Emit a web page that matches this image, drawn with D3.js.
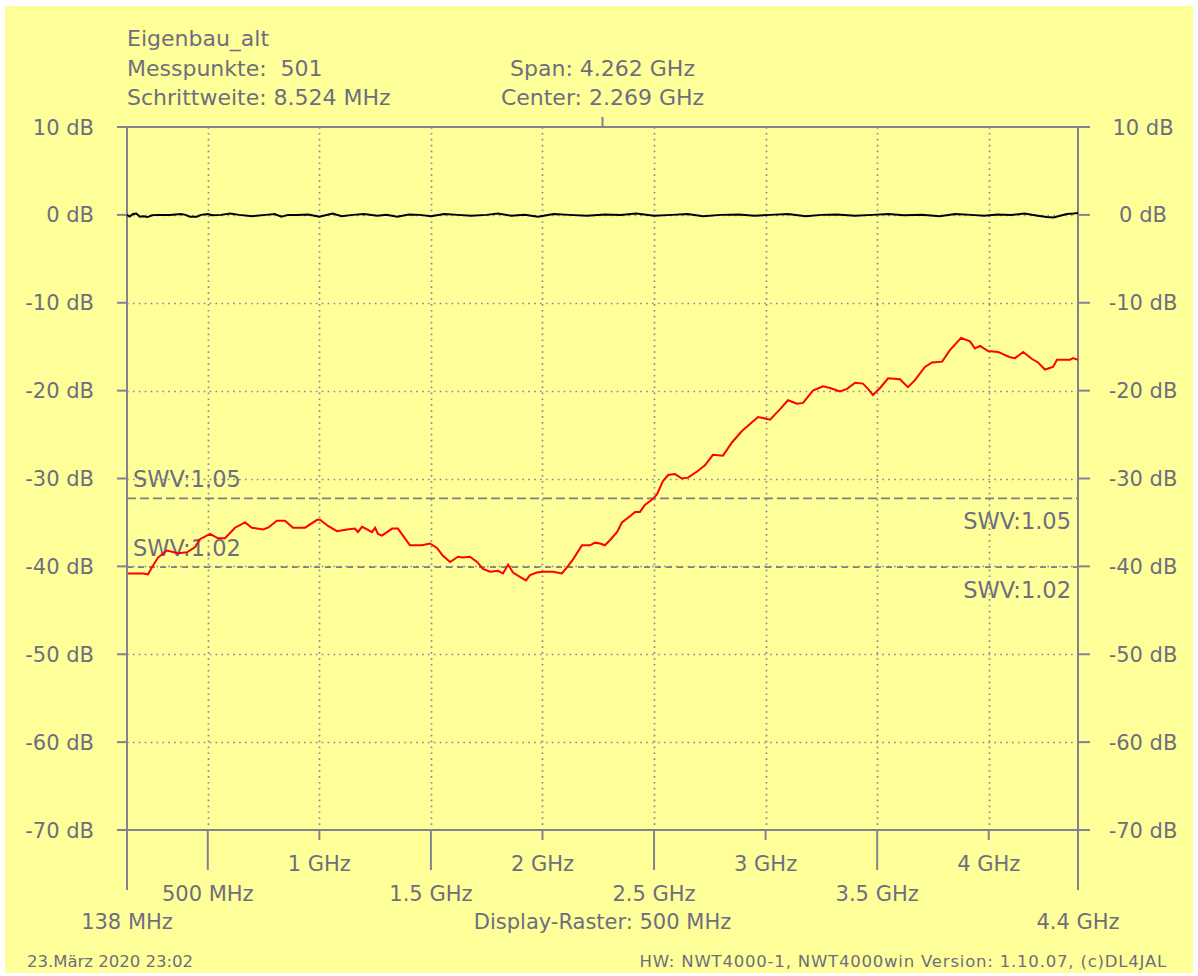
<!DOCTYPE html>
<html>
<head>
<meta charset="utf-8">
<script src="https://cdn.jsdelivr.net/npm/d3@7"></script>
<style>
  html, body { margin: 0; padding: 0; background: #ffffff; }
  svg { display: block; }
  text { font-family: "DejaVu Sans", Verdana, sans-serif; fill: #6e6e80; white-space: pre; }
</style>
</head>
<body>
<svg id="chart" width="1198" height="976"></svg>
<script>
// Sweep settings
const startMHz = 138;
const stopMHz = 4400;
const centerMHz = 2269;

// Axis ticks
const dbTicks = [10, 0, -10, -20, -30, -40, -50, -60, -70];
const freqGrid = [500, 1000, 1500, 2000, 2500, 3000, 3500, 4000];
const freqLabels = ["500 MHz", "1 GHz", "1.5 GHz", "2 GHz", "2.5 GHz", "3 GHz", "3.5 GHz", "4 GHz"];

// SWR reference lines
const swrLevels = [1.05, 1.02];

// Return loss trace (red), MHz / dB
const rlFreq = [142, 210, 232, 250, 277, 317, 367, 407, 443, 465, 510, 546, 577, 622, 667, 698, 747, 770, 810, 846,
  882, 936, 990, 1003, 1039, 1079, 1124, 1160, 1173, 1191, 1214, 1236, 1250, 1263, 1281, 1303, 1326, 1352, 1375, 1406,
  1460, 1496, 1527, 1554, 1586, 1621, 1644, 1675, 1707, 1733, 1765, 1801, 1823, 1846, 1868, 1899, 1926, 1944, 1975, 2002,
  2047, 2087, 2110, 2137, 2177, 2213, 2235, 2258, 2280, 2303, 2334, 2356, 2392, 2415, 2437, 2459, 2491, 2513, 2540, 2563,
  2594, 2625, 2652, 2693, 2728, 2764, 2809, 2849, 2894, 2939, 2966, 3020, 3065, 3100, 3141, 3168, 3212, 3257, 3289, 3333,
  3365, 3401, 3436, 3459, 3481, 3513, 3549, 3602, 3638, 3669, 3714, 3746, 3791, 3826, 3876, 3916, 3938, 3961, 3997, 4042,
  4095, 4118, 4154, 4194, 4221, 4252, 4288, 4306, 4364, 4377, 4400];
const rlDb = [-40.8, -40.8, -40.9, -40.1, -39.0, -38.2, -38.5, -38.4, -37.8, -36.9, -36.3, -36.8, -36.8, -35.6, -35.0, -35.6, -35.8, -35.6, -34.8, -34.8,
  -35.6, -35.6, -34.7, -34.7, -35.4, -36.0, -35.8, -35.7, -36.1, -35.5, -35.8, -36.1, -35.6, -36.3, -36.5, -36.1, -35.7, -35.7, -36.5, -37.6,
  -37.6, -37.4, -37.9, -38.8, -39.5, -38.9, -39.0, -38.9, -39.5, -40.3, -40.6, -40.5, -40.8, -39.8, -40.7, -41.2, -41.6, -41.0, -40.7, -40.6,
  -40.6, -40.8, -40.1, -39.2, -37.6, -37.6, -37.3, -37.4, -37.6, -37.0, -36.1, -35.0, -34.3, -33.8, -33.8, -33.0, -32.4, -31.8, -30.3, -29.6,
  -29.5, -30.0, -29.9, -29.2, -28.5, -27.3, -27.4, -25.9, -24.6, -23.6, -23.0, -23.3, -22.1, -21.1, -21.5, -21.4, -20.0, -19.5, -19.7, -20.1,
  -19.8, -19.1, -19.2, -19.8, -20.5, -19.7, -18.6, -18.7, -19.6, -18.8, -17.3, -16.8, -16.7, -15.4, -14.0, -14.4, -15.2, -14.9, -15.5, -15.6,
  -16.2, -16.3, -15.6, -16.4, -16.8, -17.6, -17.3, -16.5, -16.5, -16.3, -16.5];

// Through calibration trace (black), MHz / dB
const thruFreq = [138, 150, 165, 180, 195, 210, 230, 250, 280, 330, 380, 400, 420, 450, 470, 500, 520, 560, 600, 640,
  700, 760, 800, 830, 860, 900, 950, 1000, 1060, 1100, 1150, 1200, 1260, 1300, 1350, 1400, 1450, 1500, 1560, 1620,
  1680, 1750, 1800, 1860, 1920, 1980, 2050, 2120, 2200, 2280, 2350, 2420, 2500, 2580, 2650, 2720, 2800, 2880, 2950, 3020,
  3100, 3180, 3250, 3320, 3400, 3480, 3550, 3620, 3700, 3780, 3850, 3920, 3980, 4040, 4100, 4160, 4220, 4260, 4290, 4320,
  4350, 4380, 4400];
const thruDb = [0.0, -0.2, 0.1, 0.15, -0.2, -0.15, -0.25, -0.05, 0.0, 0.0, 0.1, 0.0, -0.2, -0.2, 0.0, 0.1, -0.05, 0.0, 0.15, 0.0,
  -0.15, 0.0, 0.1, -0.2, 0.0, 0.0, 0.05, -0.2, 0.15, -0.15, 0.0, 0.1, -0.1, 0.0, -0.2, 0.05, 0.0, -0.15, 0.1, 0.0,
  -0.1, 0.0, 0.15, -0.1, 0.0, -0.2, 0.1, 0.0, -0.1, 0.05, 0.0, 0.15, -0.1, 0.0, 0.1, -0.15, 0.0, 0.05, -0.1, 0.0,
  0.1, -0.15, 0.0, 0.05, -0.1, 0.0, 0.1, -0.05, 0.0, -0.15, 0.1, 0.0, -0.1, 0.05, 0.0, 0.15, -0.1, -0.25, -0.3, -0.1,
  0.1, 0.15, 0.2];

// Header / footer text
const headerLines = ["Eigenbau_alt", "Messpunkte:  501", "Schrittweite: 8.524 MHz"];
const centerLines = ["Span: 4.262 GHz", "Center: 2.269 GHz"];
const rasterLabel = "Display-Raster: 500 MHz";
const startLabel = "138 MHz";
const stopLabel = "4.4 GHz";
const dateLabel = "23.März 2020 23:02";
const versionLabel = "HW: NWT4000-1, NWT4000win Version: 1.10.07, (c)DL4JAL";

const axisColor = "#828294";
const gridColor = "#8a8a98";
const swrColor = "#7e7e86";

const svg = d3.select("#chart");

// Background panel
svg.append("rect").attr("x", 5).attr("y", 6).attr("width", 1188).attr("height", 967).attr("fill", "#ffff99");

const x = d3.scaleLinear().domain([startMHz, stopMHz]).range([127, 1078]);
const y = d3.scaleLinear().domain([-70, 10]).range([830, 127]);

const [x0, x1] = x.range();
const [yB, yT] = y.range();

// Grid
const grid = svg.append("g");
grid.selectAll("line.h").data(dbTicks.slice(1, -1)).join("line")
  .attr("x1", x0).attr("x2", x1)
  .attr("y1", d => Math.round(y(d)) + 0.5).attr("y2", d => Math.round(y(d)) + 0.5)
  .attr("stroke", gridColor).attr("stroke-width", 1.7).attr("stroke-dasharray", "1.7,4.2");
grid.selectAll("line.v").data(freqGrid).join("line")
  .attr("x1", d => Math.round(x(d)) + 0.5).attr("x2", d => Math.round(x(d)) + 0.5)
  .attr("y1", yT).attr("y2", yB)
  .attr("stroke", gridColor).attr("stroke-width", 1.7).attr("stroke-dasharray", "1.7,4.2");

// SWR lines: return loss = 20*log10((s+1)/(s-1))
const swrDb = s => -20 * Math.log10((s + 1) / (s - 1));
svg.append("g").selectAll("line").data(swrLevels).join("line")
  .attr("x1", x0).attr("x2", x1)
  .attr("y1", d => y(swrDb(d))).attr("y2", d => y(swrDb(d)))
  .attr("stroke", swrColor).attr("stroke-width", 1.8)
  .attr("stroke-dasharray", (d, i) => i === 0 ? "9,4" : "6,5");

const swrText = svg.append("g").attr("font-size", 22.5);
swrLevels.forEach(s => {
  const yy = y(swrDb(s));
  swrText.append("text").attr("x", 133).attr("y", yy - 11).text("SWV:" + s.toFixed(2));
  swrText.append("text").attr("x", 1071).attr("y", yy + 31).attr("text-anchor", "end").text("SWV:" + s.toFixed(2));
});

// Axes frame
const axes = svg.append("g").attr("stroke", axisColor).attr("stroke-width", 2);
axes.append("line").attr("x1", x0 - 10).attr("x2", x1 + 12).attr("y1", yT).attr("y2", yT);
axes.append("line").attr("x1", x0 - 10).attr("x2", x1 + 12).attr("y1", yB).attr("y2", yB);
axes.append("line").attr("x1", x0).attr("x2", x0).attr("y1", yT).attr("y2", 890);
axes.append("line").attr("x1", x1).attr("x2", x1).attr("y1", yT).attr("y2", 890);
axes.selectAll("line.tl").data(dbTicks).join("line")
  .attr("x1", x0 - 10).attr("x2", x0).attr("y1", d => y(d)).attr("y2", d => y(d));
axes.selectAll("line.tr").data(dbTicks).join("line")
  .attr("x1", x1).attr("x2", x1 + 12).attr("y1", d => y(d)).attr("y2", d => y(d));
axes.selectAll("line.tb").data(freqGrid).join("line")
  .attr("x1", d => x(d)).attr("x2", d => x(d))
  .attr("y1", yB).attr("y2", d => (d % 1000 === 0) ? 840 : 870);
axes.append("line").attr("x1", x(centerMHz)).attr("x2", x(centerMHz)).attr("y1", yT - 10).attr("y2", yT);

// Y labels
const fmtDb = d => d + " dB";
svg.append("g").attr("font-size", 21).attr("text-anchor", "end")
  .selectAll("text").data(dbTicks).join("text")
  .attr("x", 94).attr("y", d => y(d) + 7.5).text(fmtDb);
svg.append("g").attr("font-size", 21).attr("text-anchor", "middle")
  .selectAll("text").data(dbTicks).join("text")
  .attr("x", 1143).attr("y", d => y(d) + 7.5).text(fmtDb);

// X labels
svg.append("g").attr("font-size", 21).attr("text-anchor", "middle")
  .selectAll("text").data(freqGrid).join("text")
  .attr("x", d => x(d)).attr("y", d => (d % 1000 === 0) ? 871 : 901)
  .text((d, i) => freqLabels[i]);
const bottomRow = svg.append("g").attr("font-size", 21).attr("text-anchor", "middle");
bottomRow.append("text").attr("x", x(startMHz)).attr("y", 929).text(startLabel);
bottomRow.append("text").attr("x", x(centerMHz)).attr("y", 929).text(rasterLabel);
bottomRow.append("text").attr("x", x(stopMHz)).attr("y", 929).text(stopLabel);

// Header
const head = svg.append("g").attr("font-size", 22);
headerLines.forEach((t, i) => head.append("text").attr("x", 127).attr("y", 46 + i * 29.5).text(t));
centerLines.forEach((t, i) => head.append("text").attr("x", x(centerMHz)).attr("y", 75.5 + i * 29.5)
  .attr("text-anchor", "middle").text(t));

// Footer
const foot = svg.append("g").attr("font-size", 16.5);
foot.append("text").attr("x", 27).attr("y", 967).text(dateLabel);
foot.append("text").attr("x", 1167).attr("y", 967).attr("text-anchor", "end")
  .attr("letter-spacing", 0.8).text(versionLabel);

// Traces
const line = d3.line().x(d => x(d[0])).y(d => y(d[1]));
svg.append("path").datum(d3.zip(thruFreq, thruDb))
  .attr("d", line).attr("fill", "none").attr("stroke", "#000000").attr("stroke-width", 2);
svg.append("path").datum(d3.zip(rlFreq, rlDb))
  .attr("d", line).attr("fill", "none").attr("stroke", "#ff0000").attr("stroke-width", 2);
</script>
</body>
</html>
